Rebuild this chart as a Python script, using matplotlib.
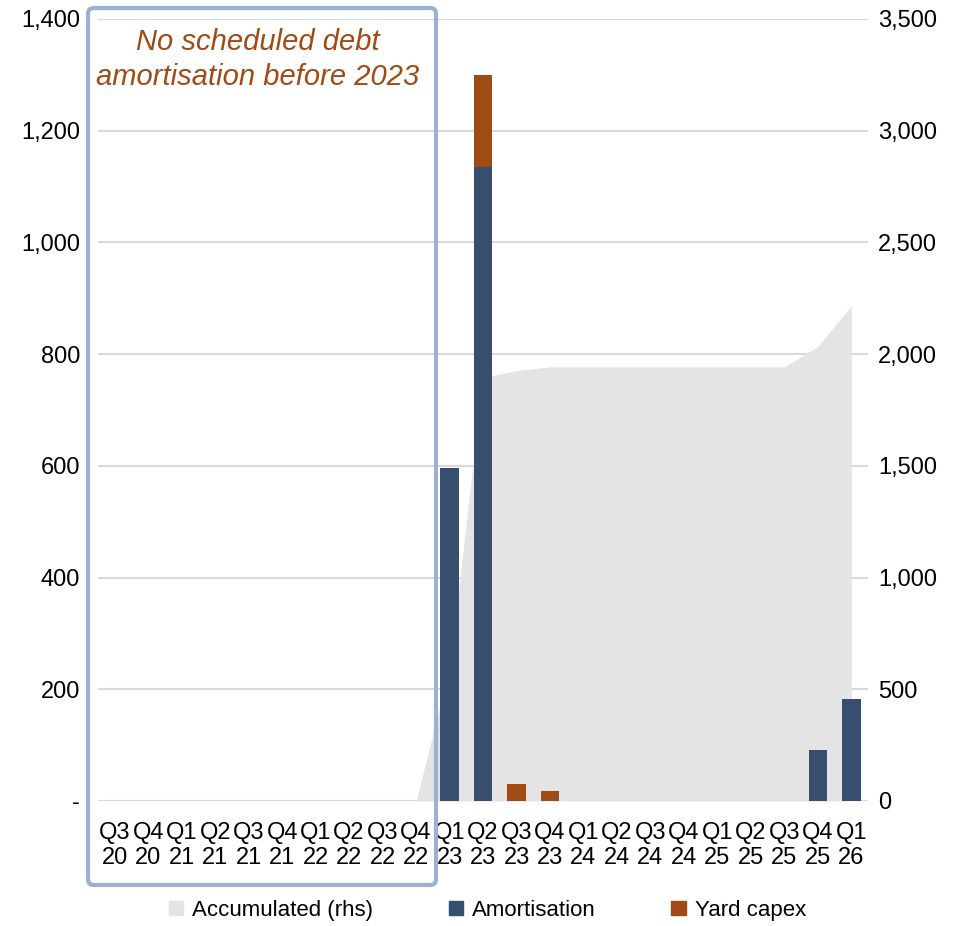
import matplotlib
matplotlib.use("Agg")
import matplotlib.pyplot as plt
from matplotlib.patches import Patch, FancyBboxPatch
from matplotlib.ticker import FuncFormatter
import numpy as np

plt.rcParams["font.family"] = ["Liberation Sans", "DejaVu Sans"]

# quarters on the x axis
quarters = ["Q3\n20", "Q4\n20", "Q1\n21", "Q2\n21", "Q3\n21", "Q4\n21", "Q1\n22", "Q2\n22",
            "Q3\n22", "Q4\n22", "Q1\n23", "Q2\n23", "Q3\n23", "Q4\n23", "Q1\n24", "Q2\n24",
            "Q3\n24", "Q4\n24", "Q1\n25", "Q2\n25", "Q3\n25", "Q4\n25", "Q1\n26"]

# USDm per quarter (lhs)
amortisation = [0, 0, 0, 0, 0, 0, 0, 0, 0, 0, 596, 1135, 0, 0, 0, 0, 0, 0, 0, 0, 0, 91, 183]
yard_capex = [0, 0, 0, 0, 0, 0, 0, 0, 0, 0, 0, 165, 30, 17, 0, 0, 0, 0, 0, 0, 0, 0, 0]
# running total (rhs)
accumulated = [0, 0, 0, 0, 0, 0, 0, 0, 0, 0, 596, 1896, 1926, 1943, 1943, 1943, 1943, 1943,
               1943, 1943, 1943, 2034, 2217]

c_amort = "#374E6E"
c_yard = "#A04A15"
c_acc = "#E4E4E4"
c_grid = "#D9D9D9"
c_box = "#9DB0CF"

fig = plt.figure(figsize=(9.76, 9.26), dpi=100)
ax = fig.add_axes([0.1004, 0.135, 0.789, 0.8445])
ax_r = ax.twinx()

x = np.arange(len(quarters))

# area on the right axis, bars on top of it
ax_r.fill_between(x, accumulated, color=c_acc, linewidth=0, zorder=1)
ax_r.set_ylim(0, 3500)
ax_r.set_yticks(np.arange(0, 3501, 500))
ax_r.yaxis.set_major_formatter(FuncFormatter(lambda v, p: f"{v:,.0f}"))
ax_r.grid(axis="y", color=c_grid, linewidth=1.5, zorder=0)
ax_r.set_axisbelow(True)

ax.set_zorder(ax_r.get_zorder() + 1)
ax.patch.set_visible(False)
w = 0.556
ax.bar(x, amortisation, width=w, color=c_amort, zorder=3)
ax.bar(x, yard_capex, width=w, bottom=amortisation, color=c_yard, zorder=3)
ax.set_ylim(0, 1400)
ax.set_xlim(-0.5, len(quarters) - 0.5)
ax.set_yticks(np.arange(0, 1401, 200))
ax.yaxis.set_major_formatter(FuncFormatter(lambda v, p: "-" if v == 0 else f"{v:,.0f}"))
ax.set_xticks(x)
ax.set_xticklabels(quarters, linespacing=1.2)

for a in (ax, ax_r):
    for s in a.spines.values():
        s.set_visible(False)
    a.tick_params(length=0, labelsize=17, colors="black")
ax.tick_params(axis="y", pad=13)
ax.tick_params(axis="x", pad=15)
ax_r.tick_params(axis="y", pad=7)

# box around the pre-2023 quarters
box = FancyBboxPatch((0.0902, 0.0443), 0.3565, 0.947, boxstyle="round,pad=0,rounding_size=0.006",
                     transform=fig.transFigure, fill=False, edgecolor=c_box, linewidth=3,
                     zorder=10)
fig.patches.append(box)
fig.text(0.264, 0.9355, "No scheduled debt\namortisation before 2023", color=c_yard,
         fontsize=21, style="italic", ha="center", va="center", linespacing=1.3)

handles = [Patch(color=c_acc), Patch(color=c_amort), Patch(color=c_yard)]
fig.legend(handles, ["Accumulated (rhs)", "Amortisation", "Yard capex"], loc="center",
           bbox_to_anchor=(0.4995, 0.017), ncol=3, frameon=False, fontsize=16,
           handlelength=0.65, handleheight=0.65, handletextpad=0.4, columnspacing=3.4)

fig.savefig("out.png", dpi=100)
